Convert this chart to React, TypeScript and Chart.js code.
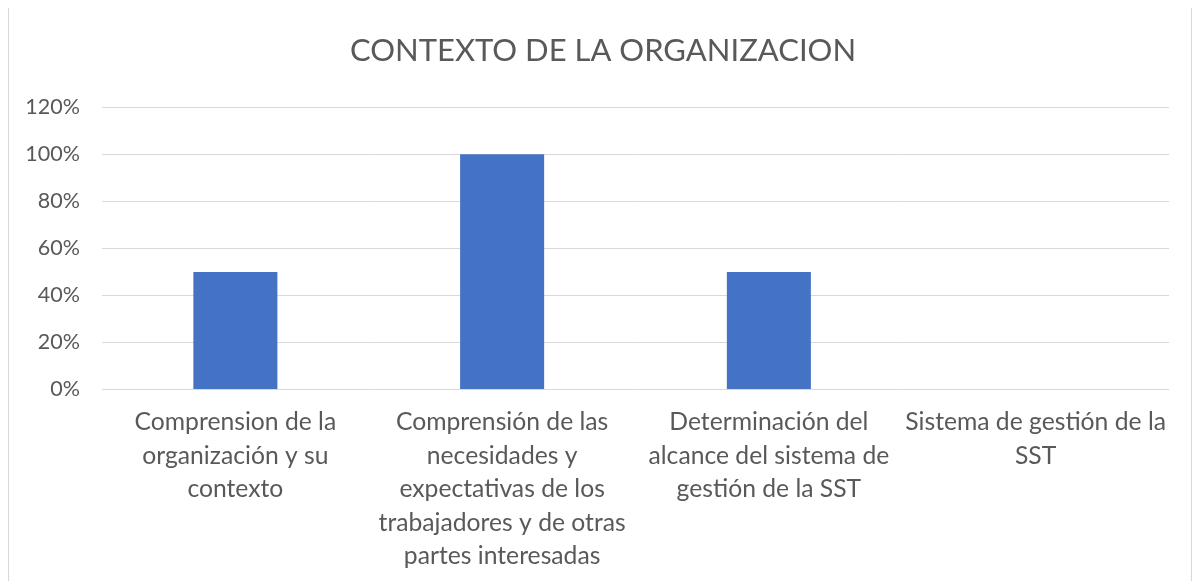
import React, { useEffect, useRef } from "react";
import { Chart, registerables } from "chart.js";

Chart.register(...registerables);

const TITLE = "CONTEXTO DE LA ORGANIZACION";
const categories: string[][] = [
  ["Comprension de la", "organización y su", "contexto"],
  ["Comprensión de las", "necesidades y", "expectativas de los", "trabajadores y de otras", "partes interesadas"],
  ["Determinación del", "alcance del sistema de", "gestión de la SST"],
  ["Sistema de gestión de la", "SST"],
];
const values: number[] = [50, 100, 50, 0];
const yTicks: number[] = [0, 20, 40, 60, 80, 100, 120];

const FONT = "Lato, 'Open Sans', sans-serif";
const TEXT = "#595959";

export default function App() {
  const ref = useRef<HTMLCanvasElement | null>(null);
  useEffect(() => {
    if (!ref.current) return;
    const chart = new Chart(ref.current, {
      type: "bar",
      data: {
        labels: categories,
        datasets: [
          {
            data: values,
            backgroundColor: "#4472C4",
            categoryPercentage: 1,
            barPercentage: 0.315,
          },
        ],
      },
      options: {
        animation: false,
        responsive: false,
        maintainAspectRatio: false,
        layout: { padding: { left: 28, right: 22, top: 0, bottom: 10 } },
        plugins: {
          legend: { display: false },
          tooltip: { enabled: false },
          title: {
            display: true,
            text: TITLE,
            color: TEXT,
            font: { family: FONT, size: 31, weight: "normal" },
            padding: { top: 24, bottom: 38 },
          },
        },
        scales: {
          x: {
            grid: { display: false },
            border: { display: false },
            ticks: {
              color: TEXT,
              font: { family: FONT, size: 24.7, lineHeight: 1.356 },
              padding: 8,
              maxRotation: 0,
              autoSkip: false,
            },
          },
          y: {
            min: 0,
            max: 120,
            afterBuildTicks: (axis: any) => {
              axis.ticks = yTicks.map((v) => ({ value: v }));
            },
            afterFit: (axis: any) => {
              axis.width = 65;
              axis._computeLabelArea = () => undefined;
            },
            grid: { color: "#d9d9d9", drawTicks: false, lineWidth: 1 },
            border: { display: false },
            ticks: {
              color: TEXT,
              font: { family: FONT, size: 21.5 },
              padding: 22,
              callback: (v: any) => v + "%",
            },
          },
        },
      },
    });
    return () => chart.destroy();
  }, []);
  return (
    <div style={{ width: 1182, height: 583, border: "1px solid #d9d9d9", marginTop: -1 }}>
      <canvas ref={ref} width={1182} height={583} style={{ display: "block" }} />
    </div>
  );
}
